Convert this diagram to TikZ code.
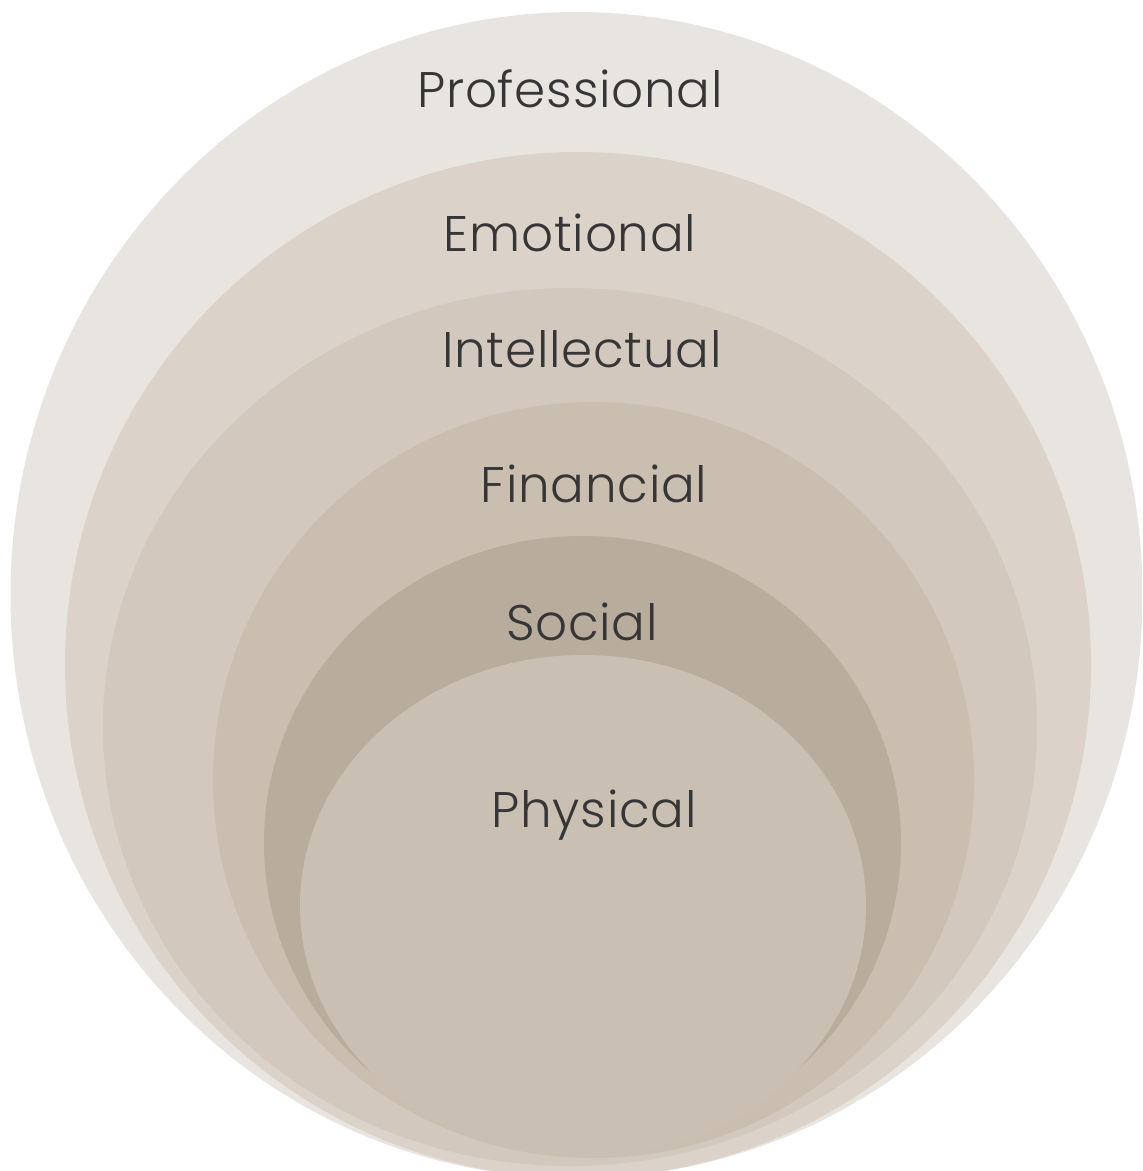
\documentclass[tikz,border=0pt]{standalone}
\usepackage{fontspec}
\setmainfont{Poppins Light}[LetterSpace=1.5]
\begin{document}
\begin{tikzpicture}[x=0.5pt,y=-0.5pt,
  layer/.style={draw=none},
  lbl/.style={anchor=base,inner sep=0pt,text=labelgray,font=\fontsize{25}{30}\selectfont}]
\definecolor{labelgray}{HTML}{363636}
\definecolor{cProf}{HTML}{E8E4E0}
\definecolor{cEmo}{HTML}{DBD3CA}
\definecolor{cInt}{HTML}{D2C8BD}
\definecolor{cFin}{HTML}{C9BEAF}
\definecolor{cSoc}{HTML}{B8AD9D}
\definecolor{cPhy}{HTML}{C9C0B3}
\useasboundingbox (0,0) rectangle (1142,1171);
\clip (0,0) rectangle (1142,1171);
% nested layers, outermost first
\fill[layer,cProf] (576.5,595) ellipse [x radius=566, y radius=583];
\fill[layer,cEmo]  (578,665)   ellipse [x radius=513, y radius=513];
\fill[layer,cInt]  (570,727)   ellipse [x radius=467, y radius=439];
\fill[layer,cFin]  (593.5,780) ellipse [x radius=380.5, y radius=378];
\fill[layer,cSoc]  (582.5,843) ellipse [x radius=318.5, y radius=307];
\fill[layer,cPhy]  (583,906)   ellipse [x radius=283, y radius=251];
% labels
\node[lbl] (prof) at (570,108) {Professional};
\node[lbl] (emo)  at (570,252) {Emotional};
\node[lbl] (int)  at (582,367) {Intellectual};
\node[lbl] (fin)  at (594,502) {Financial};
\node[lbl] (soc)  at (582,640) {Social};
\node[lbl] (phy)  at (594,827) {Physical};
\end{tikzpicture}
\end{document}
